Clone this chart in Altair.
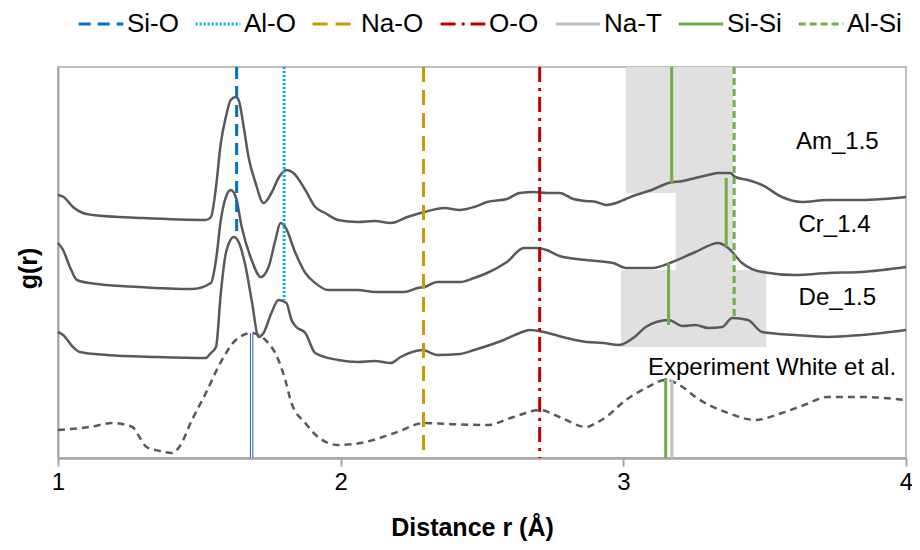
import altair as alt
import pandas as pd

# ---------------- data ----------------
am_r = [1.0, 1.02, 1.053, 1.088, 1.123, 1.3, 1.523, 1.541, 1.559, 1.576, 1.594, 1.611, 1.629, 1.639, 1.657,
        1.674, 1.699, 1.727, 1.755, 1.78, 1.808, 1.833, 1.875, 1.91, 1.945, 1.991, 2.061, 2.121, 2.177, 2.236,
        2.296, 2.367, 2.42, 2.472, 2.518, 2.588, 2.633, 2.683, 2.73, 2.774, 2.823, 2.869, 2.904, 2.939, 2.974,
        3.009, 3.044, 3.1, 3.16, 3.21, 3.255, 3.3, 3.336, 3.378, 3.396, 3.44, 3.491, 3.561, 3.631, 3.723,
        3.842, 3.92, 4.0]
am_g = [263, 261, 251, 245, 243, 240, 238, 241, 271, 315, 341, 358, 361, 358, 331,
        301, 275, 255, 265, 280, 288, 285, 268, 251, 245, 238, 236, 237, 235, 241,
        246, 250, 248, 251, 256, 259, 265, 266, 265, 265, 259, 257, 256, 253, 255,
        259, 263, 268, 275, 277, 280, 283, 285, 285, 281, 278, 273, 261, 256, 258,
        258, 259, 261]

cr_r = [1.0, 1.018, 1.042, 1.067, 1.112, 1.288, 1.474, 1.541, 1.559, 1.576, 1.594, 1.611, 1.629, 1.65, 1.685,
        1.717, 1.745, 1.769, 1.787, 1.804, 1.84, 1.875, 1.91, 1.955, 2.061, 2.121, 2.226, 2.272, 2.296, 2.342,
        2.423, 2.472, 2.518, 2.588, 2.648, 2.693, 2.728, 2.774, 2.869, 2.964, 3.009, 3.104, 3.174, 3.255, 3.336,
        3.371, 3.42, 3.491, 3.607, 3.723, 3.842, 4.0]
cr_g = [215, 208, 191, 178, 175, 171, 169, 175, 198, 238, 261, 268, 261, 231, 198,
        181, 191, 218, 235, 231, 205, 185, 175, 168, 168, 166, 166, 170, 171, 176,
        176, 180, 185, 196, 210, 210, 208, 202, 198, 195, 190, 190, 196, 206, 215,
        210, 195, 186, 183, 185, 186, 191]

de_r = [1.0, 1.018, 1.053, 1.077, 1.172, 1.348, 1.523, 1.541, 1.559, 1.576, 1.594, 1.622, 1.639, 1.664, 1.685,
        1.71, 1.727, 1.755, 1.78, 1.808, 1.826, 1.843, 1.875, 1.91, 1.991, 2.061, 2.121, 2.177, 2.212, 2.289,
        2.342, 2.423, 2.472, 2.577, 2.633, 2.669, 2.718, 2.799, 2.869, 2.929, 2.985, 3.044, 3.079, 3.16, 3.21,
        3.255, 3.3, 3.35, 3.385, 3.441, 3.491, 3.607, 3.723, 3.842, 4.0]
de_g = [126, 123, 111, 106, 103, 101, 100, 105, 111, 165, 205, 221, 216, 191, 158,
        121, 125, 145, 158, 155, 138, 131, 125, 105, 98, 96, 97, 95, 101, 108,
        103, 104, 108, 118, 125, 128, 126, 120, 116, 115, 113, 122, 131, 138, 132,
        133, 130, 131, 140, 138, 126, 123, 121, 123, 128]

ex_r = [1.0, 1.112, 1.193, 1.263, 1.288, 1.313, 1.36, 1.404, 1.429, 1.474, 1.523, 1.58, 1.629, 1.685, 1.734,
        1.78, 1.804, 1.826, 1.875, 1.92, 1.991, 2.071, 2.191, 2.296, 2.377, 2.518, 2.612, 2.704, 2.774, 2.869,
        2.904, 2.939, 3.009, 3.08, 3.15, 3.21, 3.255, 3.371, 3.466, 3.561, 3.64, 3.723, 3.842, 4.0]
ex_g = [28, 31, 35, 31, 21, 11, 7, 5, 11, 38, 65, 98, 118, 125, 118,
        98, 78, 55, 35, 21, 13, 15, 25, 35, 34, 33, 41, 48, 41, 31,
        35, 41, 58, 70, 78, 71, 61, 45, 38, 45, 53, 61, 61, 58]

bond_names = ["Si-O", "Al-O", "Na-O", "O-O", "Na-T", "Si-Si", "Al-Si"]
bond_colors = ["#0070C0", "#00B0F0", "#C99A06", "#C00000", "#BFBFBF", "#70AD47", "#70AD47"]
bond_dashes = [[12, 7], [2, 2], [15, 8], [15, 6, 3, 6], [1, 0], [1, 0], [7, 4]]

seg_bond = ["Si-O", "Al-O", "Na-O", "O-O", "Na-T", "Si-Si", "Si-Si", "Si-Si", "Si-Si", "Al-Si"]
seg_r = [1.632, 1.80, 2.293, 2.704, 3.172, 3.171, 3.364, 3.160, 3.150, 3.392]
seg_top = [391, 391, 391, 391, 78, 391, 280, 195, 80, 391]
seg_bottom = [225, 158, 0, 0, 0, 275, 211, 133, 0, 140]

exp_sio_r = [1.685]
exp_sio_top = [125]
exp_sio_bottom = [0]

rect_r1 = [3.009, 3.185, 2.992]
rect_r2 = [3.389, 3.389, 3.505]
rect_top = [391, 265, 188]
rect_bottom = [265, 188, 111]

label_text = ["Am_1.5", "Cr_1.4", "De_1.5", "Experiment White et al."]
label_r = [3.757, 3.747, 3.757, 3.526]
label_g = [316, 233, 160, 90]

# ---------------- tables ----------------
solid = pd.concat([
    pd.DataFrame({"series": "Am_1.5", "r": am_r, "g": am_g}),
    pd.DataFrame({"series": "Cr_1.4", "r": cr_r, "g": cr_g}),
    pd.DataFrame({"series": "De_1.5", "r": de_r, "g": de_g}),
])
expdf = pd.DataFrame({"series": "Experiment", "r": ex_r, "g": ex_g})
segs = pd.DataFrame({"bond": seg_bond, "r": seg_r, "g": seg_top, "g2": seg_bottom})
sio = pd.DataFrame({"r": exp_sio_r, "g": exp_sio_top, "g2": exp_sio_bottom})
rects = pd.DataFrame({"r": rect_r1, "r2": rect_r2, "g": rect_top, "g2": rect_bottom})
labels = pd.DataFrame({"label": label_text, "r": label_r, "g": label_g})

FONT = "Liberation Sans"
AXC = "#A6A6A6"

x_axis = alt.Axis(values=[1, 2, 3, 4], format="d", title="Distance r (Å)", grid=False,
                  domainColor=AXC, domainWidth=2.5, tickColor=AXC, tickWidth=2, tickSize=8,
                  labelFontSize=24, labelFont=FONT, labelColor="black", labelPadding=4,
                  labelFlush=False, titleFontSize=25, titleFont=FONT, titleFontWeight="bold",
                  titleColor="black", titleX=414, titleY=77, titleBaseline="alphabetic")
y_axis = alt.Axis(title="g(r)", labels=False, ticks=False, grid=False, domainColor=AXC,
                  domainWidth=2, titleFontSize=25, titleFont=FONT, titleFontWeight="bold",
                  titleColor="black", titleX=-30, titleY=201, titleAngle=270,
                  titleBaseline="middle", titleAlign="center")

xs = alt.Scale(domain=[1, 4], nice=False)
ys = alt.Scale(domain=[0, 391], nice=False)


def X(f="r"):
    return alt.X(f + ":Q", scale=xs, axis=x_axis)


def Y(f="g"):
    return alt.Y(f + ":Q", scale=ys, axis=y_axis)


rect_layer = alt.Chart(rects).mark_rect(color="#E0E0E0").encode(
    x=X(), x2="r2:Q", y=Y(), y2="g2:Q")

solid_layer = alt.Chart(solid).mark_line(color="#595959", strokeWidth=2.5, interpolate="monotone").encode(
    x=X(), y=Y(), detail="series:N")

exp_layer = alt.Chart(expdf).mark_line(color="#595959", strokeWidth=2.5, strokeDash=[7, 5],
                                       interpolate="monotone").encode(x=X(), y=Y())

leg = alt.Legend(title=None, orient="none", legendX=19, legendY=-67, direction="horizontal",
                 columns=7, symbolType="stroke", symbolSize=2000, symbolStrokeWidth=3,
                 labelFontSize=26, labelFont=FONT, labelColor="black", labelOffset=2,
                 columnPadding=10, padding=0)

rule_layer = alt.Chart(segs).mark_rule(strokeWidth=3).encode(
    x=X(), y=Y(), y2="g2:Q",
    color=alt.Color("bond:N", scale=alt.Scale(domain=bond_names, range=bond_colors), legend=leg),
    strokeDash=alt.StrokeDash("bond:N", scale=alt.Scale(domain=bond_names, range=bond_dashes), legend=leg),
)

sio_outer = alt.Chart(sio).mark_rule(color="#4472C4", strokeWidth=3.5).encode(x=X(), y=Y(), y2="g2:Q")
sio_inner = alt.Chart(sio).mark_rule(color="white", strokeWidth=1.2).encode(x=X(), y=Y(), y2="g2:Q")

text_layer = alt.Chart(labels).mark_text(fontSize=24, font=FONT, color="black", align="center",
                                         baseline="middle").encode(x=X(), y=Y(), text="label:N")

chart = alt.layer(rect_layer, solid_layer, exp_layer, rule_layer, sio_outer, sio_inner, text_layer).properties(
    width=848, height=391, autosize="none",
    padding={"left": 50, "top": 59, "right": 6, "bottom": 85},
).configure_view(stroke="#BFBFBF", strokeWidth=2)

chart.save("out.html", embed_options={"renderer": "svg", "actions": False})
